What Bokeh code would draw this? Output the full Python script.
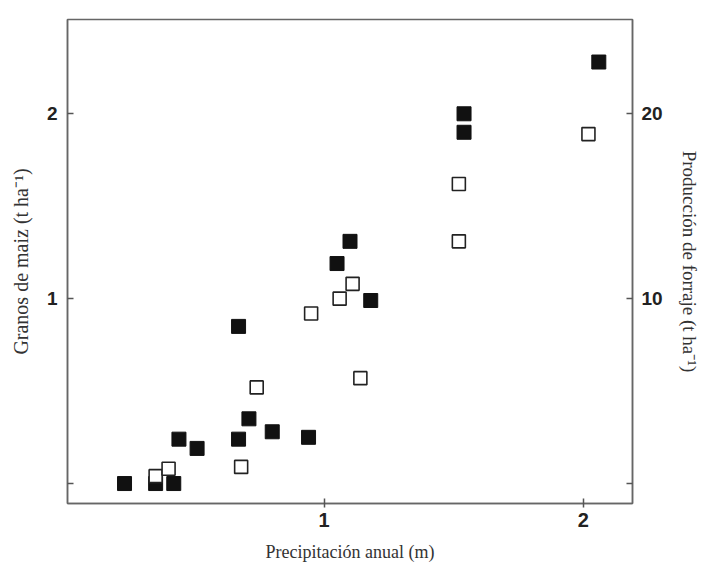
from bokeh.plotting import figure
from bokeh.models import Range1d, LinearAxis, FixedTicker
from bokeh.embed import file_html
from bokeh.resources import INLINE

# Maize grain (filled squares, left axis, t/ha) vs annual precipitation (m)
maize_precip = [0.23, 0.35, 0.42, 0.44, 0.51, 0.67, 0.71, 0.67, 0.80, 0.94,
                1.05, 1.10, 1.18, 1.54, 1.54, 2.06]
maize_grain = [0.0, 0.0, 0.0, 0.24, 0.19, 0.24, 0.35, 0.85, 0.28, 0.25,
               1.19, 1.31, 0.99, 2.0, 1.90, 2.28]

# Forage production (open squares, right axis, t/ha)
forage_precip = [0.35, 0.40, 0.68, 0.74, 0.95, 1.06, 1.11, 1.14, 1.52, 1.52, 2.02]
forage_prod = [0.4, 0.8, 0.9, 5.2, 9.2, 10.0, 10.8, 5.7, 16.2, 13.1, 18.9]

x_ticks = [0, 1, 2]
left_ticks = [0, 1, 2]
right_ticks = [0, 10, 20]

W, H = 706, 566
p = figure(width=W, height=H, output_backend="svg", toolbar_location=None,
           x_range=Range1d(0.01, 2.19), y_range=Range1d(-0.108, 2.51),
           min_border_left=67, min_border_right=W - 632, min_border_top=19,
           min_border_bottom=H - 503)
p.extra_y_ranges = {"forage": Range1d(-1.08, 25.1)}

p.xgrid.visible = False
p.ygrid.visible = False
p.outline_line_color = "#666666"
p.outline_line_width = 1.5
p.background_fill_color = "white"
p.border_fill_color = "white"

label_font = "Liberation Sans"
title_font = "Liberation Serif"

def style_axis(ax, ticks, overrides):
    ax.ticker = FixedTicker(ticks=ticks)
    ax.major_label_overrides = overrides
    ax.minor_tick_line_color = None
    ax.axis_line_color = "#666666"
    ax.axis_line_width = 1.5
    ax.major_tick_line_color = "#555555"
    ax.major_tick_line_width = 1.5
    ax.major_label_text_font = label_font
    ax.major_label_text_font_style = "bold"
    ax.major_label_text_font_size = "19px"
    ax.major_label_text_color = "#222222"
    ax.axis_label_text_font = title_font
    ax.axis_label_text_font_style = "normal"
    ax.axis_label_text_font_size = "19px"
    ax.axis_label_text_color = "#333333"

# bottom axis
xa = p.xaxis[0]
style_axis(xa, x_ticks, {0: ""})
xa.major_tick_in = 5
xa.major_tick_out = 4
xa.major_label_standoff = 5
xa.major_label_text_font_size = "20px"
xa.axis_label = "Precipitación anual (m)"
xa.axis_label_text_font_size = "18px"
xa.axis_label_standoff = 12

# left axis
ya = p.yaxis[0]
style_axis(ya, left_ticks, {0: ""})
ya.major_tick_in = 6
ya.major_tick_out = 0
ya.major_label_standoff = 10
ya.axis_label = "Granos de maiz (t ha⁻¹)"
ya.axis_label_text_font_size = "20px"
ya.axis_label_standoff = 12

# right axis
ra = LinearAxis(y_range_name="forage")
style_axis(ra, right_ticks, {0: ""})
ra.major_tick_in = 6
ra.major_tick_out = 0
ra.major_label_standoff = 9
ra.axis_label = "Producción de forraje (t ha⁻¹)"
ra.axis_label_text_font_size = "19px"
ra.axis_label_standoff = 13
p.add_layout(ra, "right")

p.scatter(maize_precip, maize_grain, marker="square", size=14,
          fill_color="#111111", line_color="#111111")
p.scatter(forage_precip, forage_prod, marker="square", size=13,
          fill_color="white", line_color="#222222", line_width=1.6,
          y_range_name="forage")

open("out.html", "w").write(file_html(p, INLINE))
